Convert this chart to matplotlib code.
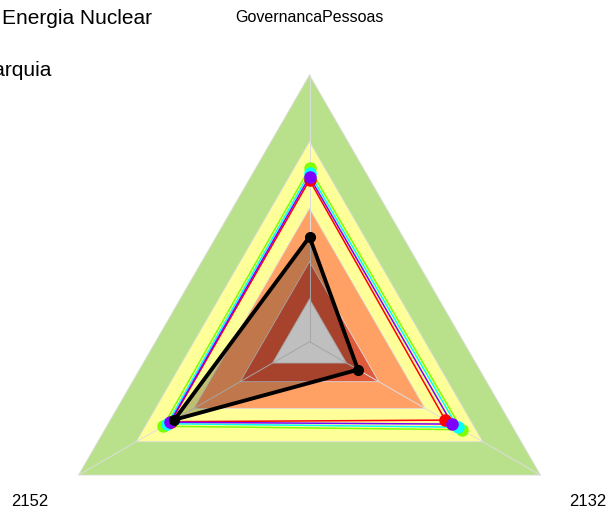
import numpy as np
import matplotlib
matplotlib.use("Agg")
import matplotlib.pyplot as plt

plt.rcParams['font.family'] = ['Liberation Sans', 'DejaVu Sans']

# axes of the radar (top, bottom-right, bottom-left)
axis_labels = ['GovernancaPessoas', '2132', '2152']
axis_angles = [90, -30, 210]

# background bands (outer limit of each band, 0..1)
band_levels = [1.0, 0.75, 0.5, 0.3, 0.16]
band_colors = ['#B9E18C', '#FFFF99', '#FFA065', '#DF5A3B', '#FFFFFF']

# colored reference series (R rainbow(4))
series_names = ['s1', 's2', 's3', 's4']
series_colors = ['#80FF00', '#00FFFF', '#FF0000', '#8000FF']
series_values = [
    [0.651, 0.660, 0.634],
    [0.633, 0.641, 0.615],
    [0.606, 0.588, 0.600],
    [0.618, 0.618, 0.604],
]

# highlighted series
main_values = [0.393, 0.21, 0.585]

title = 'Energia Nuclear'
subtitle = 'Hierarquia'


def to_xy(values):
    ang = np.deg2rad(axis_angles)
    v = np.asarray(values, dtype=float)
    x = v * np.cos(ang)
    y = v * np.sin(ang)
    return np.append(x, x[0]), np.append(y, y[0])


fig = plt.figure(figsize=(6.09, 5.14), dpi=100)
ax = fig.add_axes([0, 0, 1, 1])
R = 266.7
ax.set_xlim(-309.5 / R, (609 - 309.5) / R)
ax.set_ylim(-(514 - 341.7) / R, 341.7 / R)
ax.axis('off')

# bands
for lvl, col in zip(band_levels, band_colors):
    x, y = to_xy([lvl] * 3)
    ax.fill(x, y, color=col, lw=0, zorder=1)
    ax.plot(x, y, color='#DDDDDD', lw=0.6, zorder=2)

# spokes
for a in axis_angles:
    r = np.deg2rad(a)
    ax.plot([0, np.cos(r)], [0, np.sin(r)], color='#DDDDDD', lw=0.7, zorder=2)

# main series fill
x, y = to_xy(main_values)
ax.fill(x, y, color='black', alpha=0.25, lw=0, zorder=3)

# colored series
for vals, col in zip(series_values, series_colors):
    x, y = to_xy(vals)
    ax.plot(x, y, color=col, lw=1.1, zorder=4)
    ax.plot(x[:-1], y[:-1], 'o', color=col, ms=8, zorder=5)

# main series line
x, y = to_xy(main_values)
ax.plot(x, y, color='black', lw=2.8, zorder=6)
ax.plot(x[:-1], y[:-1], 'o', color='black', ms=7, zorder=7)

# labels
ax.text(309 / R - 309.5 / R, (341.7 - 18) / R, axis_labels[0],
        ha='center', va='center', fontsize=11.5)
ax.text((588 - 309.5) / R, (341.7 - 502) / R, axis_labels[1],
        ha='center', va='center', fontsize=12)
ax.text((30 - 309.5) / R, (341.7 - 502) / R, axis_labels[2],
        ha='center', va='center', fontsize=12)

ax.text(2 / R - 309.5 / R, (341.7 - 19) / R, title,
        ha='left', va='center', fontsize=15)
ax.text(52 / R - 309.5 / R, (341.7 - 70) / R, subtitle,
        ha='right', va='center', fontsize=15)

fig.savefig('out.png', dpi=100)
